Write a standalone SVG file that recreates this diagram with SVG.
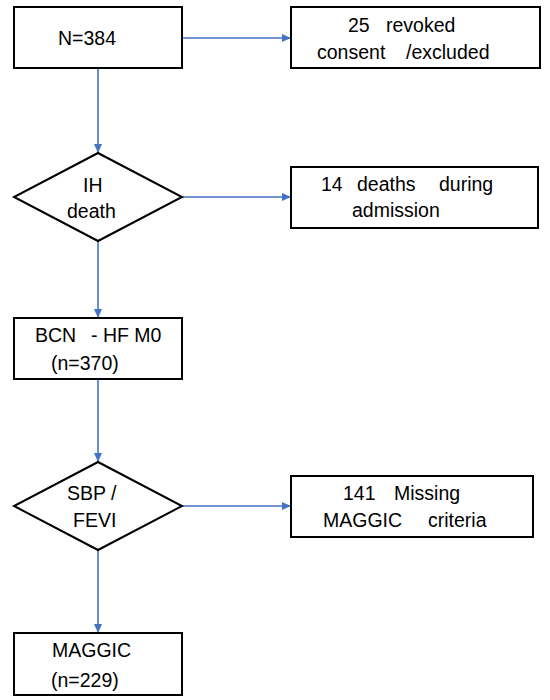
<svg xmlns="http://www.w3.org/2000/svg" width="550" height="700" viewBox="0 0 550 700">
<style>
.box{fill:#fff;stroke:#000;stroke-width:2}
.t{font-family:"Liberation Sans",Arial,sans-serif;font-size:19.5px;fill:#000}
.c{stroke:#4472C4;stroke-width:1.6;fill:none;marker-end:url(#ah)}
</style>
<defs>
<marker id="ah" markerUnits="userSpaceOnUse" markerWidth="10" markerHeight="10" refX="9" refY="5" orient="auto">
<path d="M0,1 L9,5 L0,9 Z" fill="#4472C4"/>
</marker>
</defs>
<rect width="550" height="700" fill="#fff"/>
<g id="connectors">
<line class="c" x1="182" y1="38" x2="291" y2="38"/>
<line class="c" x1="98" y1="68" x2="98" y2="153"/>
<line class="c" x1="182" y1="197" x2="291" y2="197"/>
<line class="c" x1="98" y1="241" x2="98" y2="318"/>
<line class="c" x1="98" y1="379" x2="98" y2="462"/>
<line class="c" x1="182" y1="506" x2="291" y2="506"/>
<line class="c" x1="98" y1="550" x2="98" y2="633"/>
</g>
<g id="n384">
<rect class="box" x="14" y="7" width="168" height="61"/>
<text class="t" x="58" y="45">N=384</text>
</g>
<g id="revoked">
<rect class="box" x="291" y="7" width="249" height="61"/>
<text class="t" y="32"><tspan x="348">25 </tspan><tspan x="386">revoked</tspan></text>
<text class="t" y="59"><tspan x="317">consent </tspan><tspan x="406">/excluded</tspan></text>
</g>
<g id="ihdeath">
<polygon class="box" points="98,153 182,197 98,241 14,197"/>
<text class="t" x="83" y="192">IH</text>
<text class="t" x="67" y="218">death</text>
</g>
<g id="deaths">
<rect class="box" x="291" y="167" width="247" height="61"/>
<text class="t" y="191"><tspan x="321">14 </tspan><tspan x="357">deaths </tspan><tspan x="439">during</tspan></text>
<text class="t" x="352" y="217">admission</text>
</g>
<g id="bcn">
<rect class="box" x="14" y="318" width="168" height="61"/>
<text class="t" y="342"><tspan x="35">BCN </tspan><tspan x="91">- HF M0</tspan></text>
<text class="t" x="51" y="370">(n=370)</text>
</g>
<g id="sbp">
<polygon class="box" points="98,462 182,506 98,550 14,506"/>
<text class="t" x="67" y="500">SBP /</text>
<text class="t" x="73" y="527">FEVI</text>
</g>
<g id="missing">
<rect class="box" x="291" y="476" width="242" height="61"/>
<text class="t" y="500"><tspan x="343">141 </tspan><tspan x="394">Missing</tspan></text>
<text class="t" y="527"><tspan x="323">MAGGIC </tspan><tspan x="428">criteria</tspan></text>
</g>
<g id="maggic">
<rect class="box" x="14" y="633" width="168" height="62"/>
<text class="t" x="52" y="657">MAGGIC</text>
<text class="t" x="51" y="687">(n=229)</text>
</g>
</svg>
